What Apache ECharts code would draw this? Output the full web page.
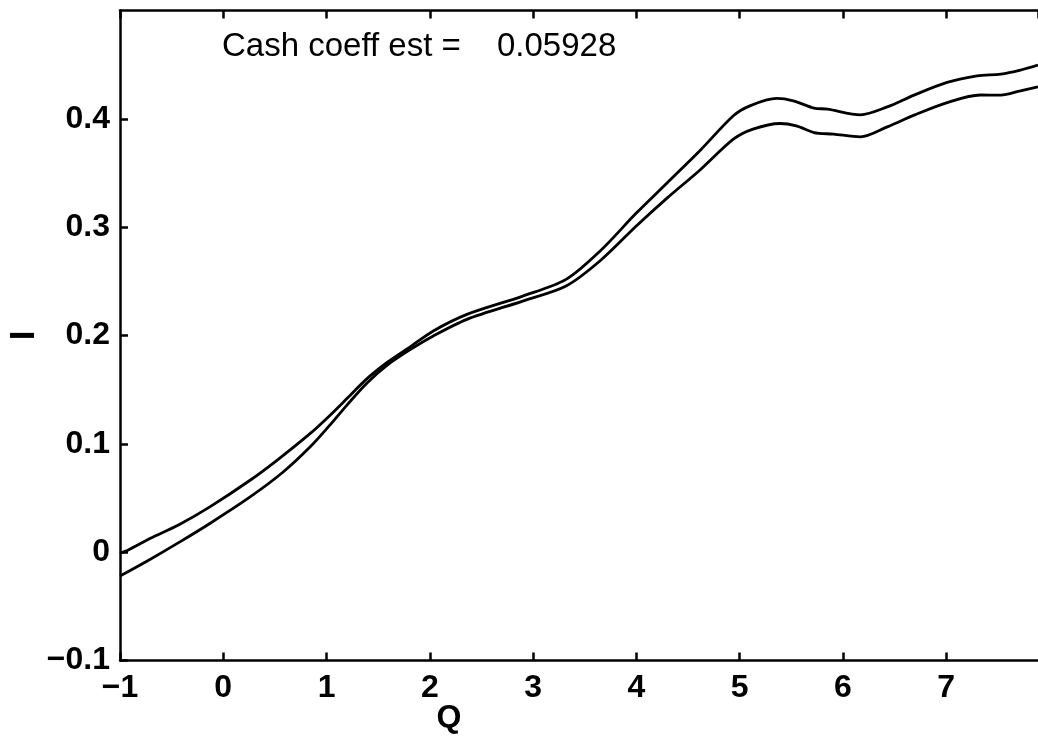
<!DOCTYPE html>
<html>
<head>
<meta charset="utf-8">
<script src="https://cdn.jsdelivr.net/npm/echarts@6/dist/echarts.min.js"></script>
<style>
  html, body { margin: 0; padding: 0; background: #fff; }
  #chart { width: 1038px; height: 736px; }
</style>
</head>
<body>
<div id="chart"></div>
<script>
// Investment rate I against Tobin's Q: upper and lower estimated curves
const qUpper = [-1.0, -0.92, -0.71, -0.42, -0.13, 0.26, 0.52, 0.84, 1.03, 1.2, 1.39, 1.6, 1.81, 2.03, 2.36, 2.90, 3.32, 3.65, 4.0, 4.3, 4.62, 4.94, 5.10, 5.36, 5.52, 5.72, 5.85, 6.17, 6.43, 6.69, 7.01, 7.30, 7.53, 7.72, 7.89];
const iUpper = [-0.001, 0.002, 0.0126, 0.0258, 0.0418, 0.0664, 0.0848, 0.1094, 0.126, 0.142, 0.160, 0.176, 0.1895, 0.204, 0.2195, 0.2364, 0.2518, 0.278, 0.313, 0.341, 0.371, 0.4028, 0.412, 0.4188, 0.4166, 0.4099, 0.409, 0.4037, 0.411, 0.4219, 0.4336, 0.4397, 0.4413, 0.445, 0.4496];

const qLower = [-1.0, -0.71, -0.42, -0.13, 0.26, 0.58, 0.84, 1.03, 1.2, 1.39, 1.6, 1.81, 2.03, 2.36, 2.90, 3.32, 3.65, 4.0, 4.3, 4.62, 4.94, 5.13, 5.39, 5.55, 5.72, 5.91, 6.17, 6.43, 6.69, 7.01, 7.33, 7.53, 7.72, 7.89];
const iLower = [-0.022, -0.0067, 0.0095, 0.0265, 0.051, 0.074, 0.097, 0.117, 0.136, 0.156, 0.1735, 0.187, 0.1994, 0.2149, 0.2318, 0.2457, 0.269, 0.301, 0.327, 0.353, 0.3812, 0.3905, 0.3957, 0.3935, 0.3873, 0.3859, 0.3834, 0.3926, 0.4034, 0.415, 0.422, 0.4219, 0.4259, 0.4296];

const xTickLabels = [-1, 0, 1, 2, 3, 4, 5, 6, 7];
const yTickLabels = [-0.1, 0, 0.1, 0.2, 0.3, 0.4];

const annotationLabel = 'Cash coeff est =';
const annotationValue = '0.05928';

const FONT = '"Liberation Sans", Arial, Helvetica, sans-serif';

const pairs = (xs, ys) => xs.map((x, i) => [x, ys[i]]);
const minus = s => String(s).replace('-', '\u2212');

const chart = echarts.init(document.getElementById('chart'), null, { renderer: 'canvas' });

const tickStyle = { inside: true, length: 8, lineStyle: { color: '#000', width: 2.5 } };
const lineStyleAxis = { show: true, onZero: false, lineStyle: { color: '#000', width: 2.5 } };

chart.setOption({
  backgroundColor: '#fff',
  animation: false,
  grid: { left: 120, right: 0, top: 10.5, bottom: 75.5, containLabel: false, outerBoundsMode: 'none' },
  xAxis: [
    {
      type: 'value', position: 'bottom', min: -1, max: 7.89, interval: 1,
      name: 'Q', nameLocation: 'middle', nameGap: 42, nameMoveOverlap: false,
      // the label sits left of the plot's centre, so pad its right side
      nameTextStyle: { color: '#000', fontFamily: FONT, fontSize: 32, fontWeight: 'bold', padding: [0, 260, 0, 0] },
      axisLine: lineStyleAxis, axisTick: tickStyle, splitLine: { show: false },
      axisLabel: {
        color: '#000', fontFamily: FONT, fontSize: 32, fontWeight: 'bold', margin: 12,
        showMaxLabel: false,
        formatter: v => xTickLabels.includes(Math.round(v * 100) / 100) ? minus(Math.round(v)) : ''
      }
    },
    {
      type: 'value', position: 'top', min: -1, max: 7.89, interval: 1,
      axisLine: lineStyleAxis, axisTick: tickStyle, axisLabel: { show: false }, splitLine: { show: false }
    }
  ],
  yAxis: [
    {
      type: 'value', min: -0.1, max: 0.5, interval: 0.1,
      name: 'I', nameLocation: 'middle', nameGap: 78, nameRotate: 90, nameMoveOverlap: false,
      nameTextStyle: { color: '#000', fontFamily: FONT, fontSize: 35, fontWeight: 'bold' },
      axisLine: lineStyleAxis, axisTick: tickStyle, splitLine: { show: false },
      axisLabel: {
        color: '#000', fontFamily: FONT, fontSize: 32, fontWeight: 'bold', margin: 10,
        showMaxLabel: false,
        formatter: v => {
          const r = Math.round(v * 10) / 10;
          return yTickLabels.includes(r) ? minus(r) : '';
        }
      }
    }
  ],
  graphic: [
    {
      type: 'text', left: 222, top: 30,
      style: { text: annotationLabel, fill: '#000', font: '33px ' + FONT }
    },
    {
      type: 'text', left: 497, top: 30,
      style: { text: annotationValue, fill: '#000', font: '33px ' + FONT }
    }
  ],
  series: [
    {
      type: 'line', name: 'upper', data: pairs(qUpper, iUpper), smooth: 0.3,
      showSymbol: false, lineStyle: { color: '#000', width: 2.8 }, clip: true
    },
    {
      type: 'line', name: 'lower', data: pairs(qLower, iLower), smooth: 0.3,
      showSymbol: false, lineStyle: { color: '#000', width: 2.8 }, clip: true
    }
  ]
});
</script>
</body>
</html>
